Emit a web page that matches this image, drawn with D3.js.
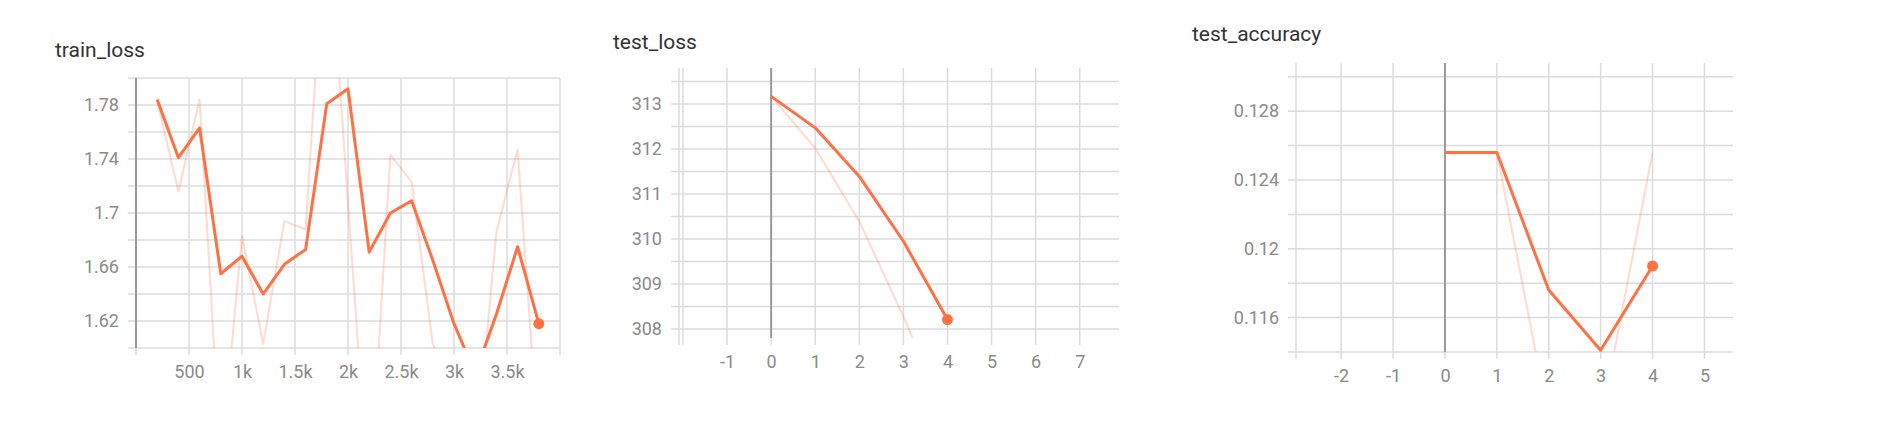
<!DOCTYPE html>
<html>
<head>
<meta charset="utf-8">
<script src="https://cdn.jsdelivr.net/npm/d3@7"></script>
<style>
  body { margin: 0; background: #fff; }
  svg { display: block; font-family: Roboto, "Noto Sans", sans-serif; }
  .grid line { stroke: #dcdcdc; stroke-width: 1.5; }
  .zero { stroke: #9a9a9a; stroke-width: 2; }
  .tick text { fill: #8a8a8a; font-size: 18px; font-family: Roboto, sans-serif; }
  .title { fill: #333; font-size: 21px; }
</style>
</head>
<body>
<svg id="chart" width="1898" height="435"></svg>
<script>
// train_loss (step, raw value, smoothed value)
const trainSteps = [200, 400, 600, 800, 1000, 1200, 1400, 1600, 1800, 2000,
                    2200, 2400, 2600, 2800, 3000, 3200, 3400, 3600, 3800];
const trainLossRaw = [1.783, 1.716, 1.784, 1.515, 1.683, 1.603, 1.694, 1.688, 1.932, 1.708,
                      1.484, 1.743, 1.723, 1.603, 1.570, 1.515, 1.686, 1.747, 1.526];
const trainLossSmooth = [1.784, 1.741, 1.763, 1.655, 1.668, 1.640, 1.662, 1.673, 1.781, 1.792,
                         1.671, 1.700, 1.709, 1.665, 1.618, 1.581, 1.625, 1.675, 1.618];
const trainXTicks = [0, 500, 1000, 1500, 2000, 2500, 3000, 3500, 4000];
const trainXLabels = [500, 1000, 1500, 2000, 2500, 3000, 3500];
const trainYTicks = [1.60, 1.62, 1.64, 1.66, 1.68, 1.70, 1.72, 1.74, 1.76, 1.78, 1.80];
const trainYLabels = [1.62, 1.66, 1.70, 1.74, 1.78];

// test_loss
const testSteps = [0, 1, 2, 3, 4];
const testLossRaw = [313.17, 312.02, 310.39, 308.28, 306.0];
const testLossSmooth = [313.17, 312.47, 311.39, 309.95, 308.21];
const lossXTicks = [-2, -1, 0, 1, 2, 3, 4, 5, 6, 7];
const lossXLabels = [-1, 0, 1, 2, 3, 4, 5, 6, 7];
const lossYTicks = [308, 308.5, 309, 309.5, 310, 310.5, 311, 311.5, 312, 312.5, 313, 313.5];
const lossYLabels = [308, 309, 310, 311, 312, 313];

// test_accuracy
const testAccRaw = [0.1256, 0.1256, 0.1101, 0.1099, 0.1256];
const testAccSmooth = [0.1256, 0.1256, 0.1176, 0.1141, 0.1190];
const accXTicks = [-2, -1, 0, 1, 2, 3, 4, 5];
const accXLabels = [-2, -1, 0, 1, 2, 3, 4, 5];
const accYTicks = [0.114, 0.116, 0.118, 0.120, 0.122, 0.124, 0.126, 0.128, 0.130];
const accYLabels = [0.116, 0.120, 0.124, 0.128];

const orange = "#ff7043";
const svg = d3.select("#chart");

// plain hyphen for negatives, like the original
const plain = fmt => d => fmt(d).replace("\u2212", "-");

function drawPanel(p, idx) {
    const g = svg.append("g");
    const x = d3.scaleLinear().domain(p.xDomain).range([p.left, p.right]);
    const y = d3.scaleLinear().domain(p.yDomain).range([p.bottom, p.top]);

    g.append("text").attr("class", "title")
        .attr("x", p.titleX).attr("y", p.titleY).text(p.title);

    const grid = g.append("g").attr("class", "grid");
    grid.selectAll(".h").data(p.yTicks).enter().append("line")
        .attr("x1", p.left - 8).attr("x2", p.right)
        .attr("y1", d => y(d)).attr("y2", d => y(d));
    grid.selectAll(".v").data(p.xTicks).enter().append("line")
        .attr("x1", d => x(d)).attr("x2", d => x(d))
        .attr("y1", p.top).attr("y2", p.bottom + 7);
    grid.append("line")
        .attr("x1", p.left).attr("x2", p.left)
        .attr("y1", p.top).attr("y2", p.bottom + 7);

    // darker line at step 0
    g.append("line").attr("class", "zero")
        .attr("x1", x(0)).attr("x2", x(0))
        .attr("y1", p.top).attr("y2", p.bottom);

    const xAxis = d3.axisBottom(x).tickValues(p.xLabels).tickFormat(plain(p.xFmt)).tickSize(0).tickPadding(0);
    const ax = g.append("g").attr("transform", `translate(0,${p.bottom + 24})`).call(xAxis);
    ax.select(".domain").remove();
    ax.selectAll("text").attr("dy", "0.35em");

    const yAxis = d3.axisLeft(y).tickValues(p.yLabels).tickFormat(plain(p.yFmt)).tickSize(0).tickPadding(0);
    const ay = g.append("g").attr("transform", `translate(${p.left - 17},0)`).call(yAxis);
    ay.select(".domain").remove();

    const clipId = "clip" + idx;
    g.append("clipPath").attr("id", clipId).append("rect")
        .attr("x", p.left).attr("y", p.top)
        .attr("width", p.right - p.left).attr("height", p.bottom - p.top);

    const line = d3.line().x(d => x(d[0])).y(d => y(d[1]));
    const rawPts = p.steps.map((s, i) => [s, p.raw[i]]);
    const smoothPts = p.steps.map((s, i) => [s, p.smooth[i]]);

    const plot = g.append("g").attr("clip-path", `url(#${clipId})`);
    plot.append("path").datum(rawPts).attr("d", line)
        .attr("fill", "none").attr("stroke", orange).attr("stroke-opacity", 0.25)
        .attr("stroke-width", 2).attr("stroke-linejoin", "round");
    plot.append("path").datum(smoothPts).attr("d", line)
        .attr("fill", "none").attr("stroke", orange)
        .attr("stroke-width", 3).attr("stroke-linejoin", "round");

    const last = smoothPts[smoothPts.length - 1];
    g.append("circle").attr("cx", x(last[0])).attr("cy", y(last[1]))
        .attr("r", 5.5).attr("fill", orange);
}

const panels = [
    { title: "train_loss", titleX: 55, titleY: 57,
      left: 136, right: 560, top: 78, bottom: 348,
      xDomain: [0, 4000], yDomain: [1.60, 1.80],
      xTicks: trainXTicks, xLabels: trainXLabels, yTicks: trainYTicks, yLabels: trainYLabels,
      xFmt: d3.format("~s"), yFmt: d3.format("~g"),
      steps: trainSteps, raw: trainLossRaw, smooth: trainLossSmooth },
    { title: "test_loss", titleX: 613, titleY: 49,
      left: 679, right: 1119, top: 68, bottom: 338,
      xDomain: [-2.09, 7.89], yDomain: [307.8, 313.8],
      xTicks: lossXTicks, xLabels: lossXLabels, yTicks: lossYTicks, yLabels: lossYLabels,
      xFmt: d3.format("d"), yFmt: d3.format("d"),
      steps: testSteps, raw: testLossRaw, smooth: testLossSmooth },
    { title: "test_accuracy", titleX: 1192, titleY: 41,
      left: 1296, right: 1733, top: 63, bottom: 352,
      xDomain: [-2.87, 5.55], yDomain: [0.114, 0.1308],
      xTicks: accXTicks, xLabels: accXLabels, yTicks: accYTicks, yLabels: accYLabels,
      xFmt: d3.format("d"), yFmt: d3.format("~g"),
      steps: testSteps, raw: testAccRaw, smooth: testAccSmooth }
];

panels.forEach(drawPanel);
</script>
</body>
</html>
